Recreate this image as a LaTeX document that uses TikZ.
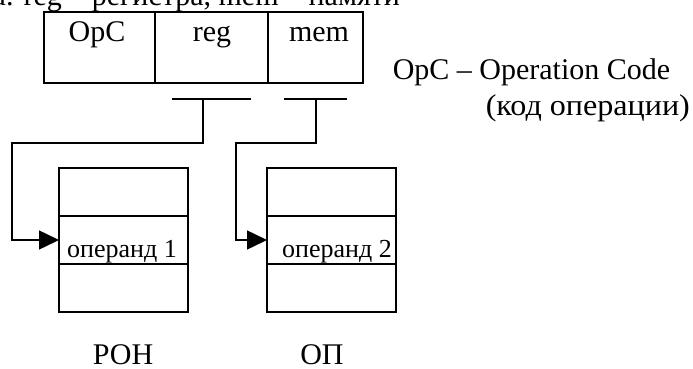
\documentclass[tikz,border=0pt]{standalone}
\usepackage{fontspec}
\setmainfont{Liberation Serif}
\newfontfamily\widecyr[FakeStretch=1.07]{Liberation Serif}
\usetikzlibrary{arrows.meta}
\begin{document}
\begin{tikzpicture}[x=1pt,y=-1pt,line width=1.5pt,
  font=\fontsize{30}{36}\selectfont,
  topcell/.style={draw, minimum width=#1, minimum height=71pt, inner sep=0pt, outer sep=0pt, anchor=north west},
  stackcell/.style={draw, minimum width=129pt, minimum height=48pt, inner sep=0pt, outer sep=0pt, anchor=north west},
  txt/.style={inner sep=0pt, anchor=base},
  optxt/.style={inner sep=0pt, anchor=base, font=\fontsize{26}{30}\selectfont},
  conn/.style={-{Triangle[length=20pt,width=19pt]}}]
\useasboundingbox (0,0) rectangle (693,369);
% clipped caption line at the top
\node[inner sep=0pt, anchor=base west] (cap) at (-8,6) {а. reg – регистра, mem – памяти};
% instruction format
\node[topcell=111pt] (opc) at (44,12) {};
\node[topcell=113pt] (reg) at (155,12) {};
\node[topcell=95pt] (mem) at (268,12) {};
\node[txt] (opct) at (97,42) {OpC};
\node[txt] (regt) at (212,42) {reg};
\node[txt] (memt) at (319,42) {mem};
% legend
\node[inner sep=0pt, anchor=base west] (leg1) at (392,80) {OpC – Operation Code};
\node[inner sep=0pt, anchor=base west] (leg2) at (485,115) {\widecyr (код операции)};
% register file
\node[stackcell] (r1) at (59,168) {};
\node[stackcell] (r2) at (59,216) {};
\node[stackcell] (r3) at (59,264) {};
\node[optxt] (r2t) at (122,257) {операнд 1};
% memory
\node[stackcell] (m1) at (267,168) {};
\node[stackcell] (m2) at (267,216) {};
\node[stackcell] (m3) at (267,264) {};
\node[optxt] (m2t) at (337,257) {операнд 2};
% labels
\node[txt] (ron) at (123,364) {РОН};
\node[txt] (op) at (322,364) {ОП};
% field bars and connectors
\coordinate (rb1) at (172,99); \coordinate (rb2) at (251,99); \coordinate (rbm) at (203,99);
\coordinate (mb1) at (284,99); \coordinate (mb2) at (347,99); \coordinate (mbm) at (316,99);
\draw (rb1) -- (rb2);
\draw (mb1) -- (mb2);
\coordinate (rk1) at (203,143); \coordinate (rk2) at (12,143);
\coordinate (mk1) at (316,143); \coordinate (mk2) at (236,143);
\draw[conn] (rbm) -- (rk1) -- (rk2) |- (r2.west);
\draw[conn] (mbm) -- (mk1) -- (mk2) |- (m2.west);
\end{tikzpicture}
\end{document}
